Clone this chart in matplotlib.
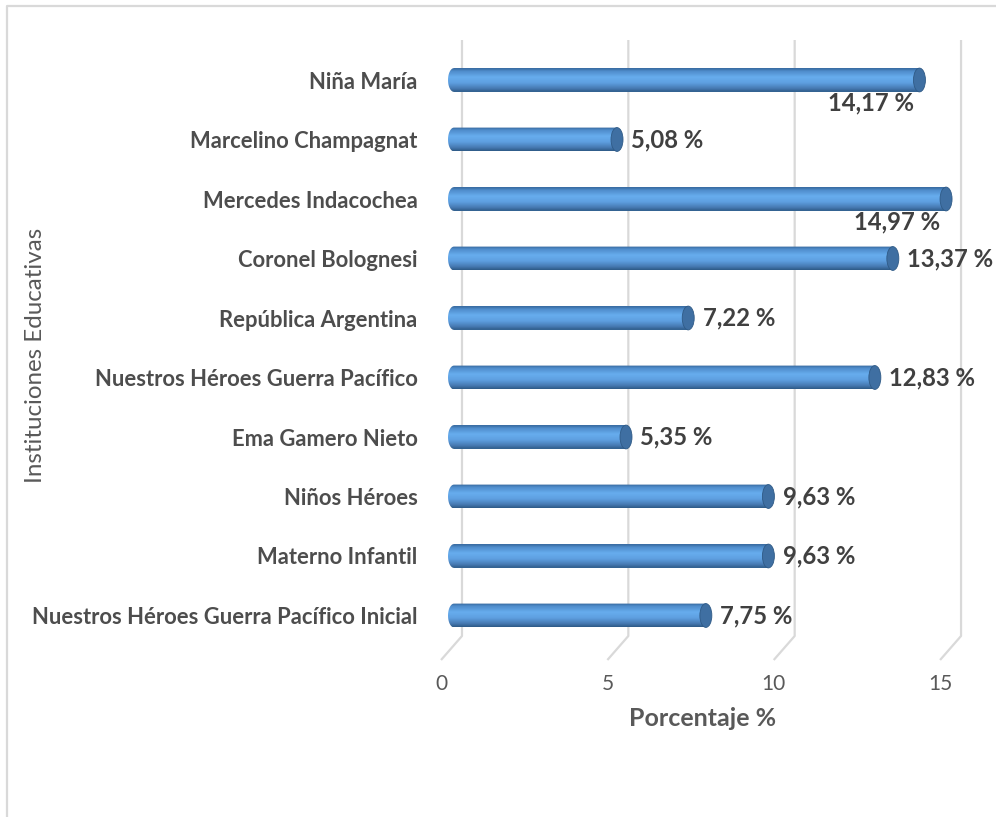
import numpy as np
import matplotlib
matplotlib.use("Agg")
import matplotlib.pyplot as plt
from matplotlib.patches import Ellipse, Polygon
from matplotlib.colors import LinearSegmentedColormap
from matplotlib.lines import Line2D

# data (top to bottom as shown)
instituciones = [
    "Niña María",
    "Marcelino Champagnat",
    "Mercedes Indacochea",
    "Coronel Bolognesi",
    "República Argentina",
    "Nuestros Héroes Guerra Pacífico",
    "Ema Gamero Nieto",
    "Niños Héroes",
    "Materno Infantil",
    "Nuestros Héroes Guerra Pacífico Inicial",
]
porcentajes = [14.17, 5.08, 14.97, 13.37, 7.22, 12.83, 5.35, 9.63, 9.63, 7.75]
xticks = [0, 5, 10, 15]

plt.rcParams['font.family'] = ['Lato', 'DejaVu Sans']

W, H = 996, 817
fig = plt.figure(figsize=(W / 100, H / 100), dpi=100)
fig.patch.set_facecolor('white')

# axes placed in pixel terms
ax_l, ax_r, ax_t, ax_b = 430, 980, 30, 670
ax = fig.add_axes([ax_l / W, 1 - ax_b / H, (ax_r - ax_l) / W, (ax_b - ax_t) / H])
x0_px, px_per = 454, 33.27
y0_px, py_per = 80, 59.5
ax.set_xlim((ax_l - x0_px) / px_per, (ax_r - x0_px) / px_per)
ax.set_ylim((ax_b - y0_px) / py_per, (ax_t - y0_px) / py_per)
for s in ax.spines.values():
    s.set_visible(False)
ax.patch.set_alpha(0)

grid_c = '#d9d9d9'
back = 0.24      # back wall offset (data units)
front = -0.39    # front edge offset
y_top = (40 - y0_px) / py_per
y_wall = (636 - y0_px) / py_per
y_front = (660 - y0_px) / py_per
for t in xticks:
    ax.plot([t + back, t + back, t + front], [y_top, y_wall, y_front],
            color=grid_c, lw=1.6, zorder=0, solid_capstyle='butt')

# x tick labels at the front edge
ax.set_xticks([t + front for t in xticks])
ax.set_xticklabels([str(t) for t in xticks], fontsize=15, color='#595959')
ax.tick_params(axis='x', length=0, pad=3)

idx = np.arange(len(instituciones))
ax.set_yticks(idx)
ax.set_yticklabels(instituciones, fontsize=15.8, fontweight='bold', color='#4d4d4d')
ax.tick_params(axis='y', length=0, pad=9)

# cylinder bars
bar_h = 0.40
cap = 0.18
cyl = LinearSegmentedColormap.from_list('cyl', [
    (0.0, '#35669a'), (0.12, '#4f8ccb'), (0.38, '#67adee'),
    (0.62, '#5e9fe0'), (0.86, '#4679b2'), (1.0, '#2e5a87')])
grad = np.linspace(0, 1, 64).reshape(-1, 1)

bars = ax.barh(idx, np.array(porcentajes) - cap, left=0, height=bar_h,
               color='#5b9bd5', zorder=2)
theta = np.linspace(np.pi / 2, 3 * np.pi / 2, 40)
for yc, v in zip(idx, porcentajes):
    xl = cap * np.cos(theta)
    yl = yc - bar_h / 2 * np.sin(theta)
    verts = list(zip(xl, yl)) + [(v - cap, yc + bar_h / 2), (v - cap, yc - bar_h / 2)]
    clip = Polygon(verts, closed=True, transform=ax.transData, facecolor='none', edgecolor='none')
    ax.add_patch(clip)
    im = ax.imshow(grad, cmap=cyl, aspect='auto', origin='upper',
                   extent=(-cap, v - cap, yc + bar_h / 2, yc - bar_h / 2),
                   zorder=3, interpolation='bilinear')
    im.set_clip_path(clip)
    ax.add_patch(Ellipse((v - cap, yc), 2 * cap, bar_h, facecolor='#3f6fa2',
                         edgecolor='#2f5a86', lw=0.6, zorder=4))

# value labels
for yc, v in zip(idx, porcentajes):
    txt = f"{v:.2f}".replace('.', ',') + " %"
    if v > 14:
        ax.text(v - 1.65, yc + 0.39, txt, ha='center', va='center', fontsize=17.2,
                fontweight='bold', color='#404040', zorder=5)
    else:
        ax.text(v + 0.25, yc, txt, ha='left', va='center', fontsize=17.2,
                fontweight='bold', color='#404040', zorder=5, clip_on=False)

ax.grid(False)

# axis titles
fig.text(703 / W, 1 - 719 / H, "Porcentaje %", ha='center', va='center',
         fontsize=18, fontweight='bold', color='#595959')
fig.text(35 / W, 1 - 355 / H, "Instituciones Educativas", ha='center', va='center',
         rotation=90, fontsize=17.4, color='#595959')

# outer chart border (top and left visible)
fig.add_artist(Line2D([7 / W, 7 / W, 1.0], [0.0, 1 - 6 / H, 1 - 6 / H],
                      color=grid_c, lw=1.6, transform=fig.transFigure))

fig.savefig("out.png", dpi=100)
